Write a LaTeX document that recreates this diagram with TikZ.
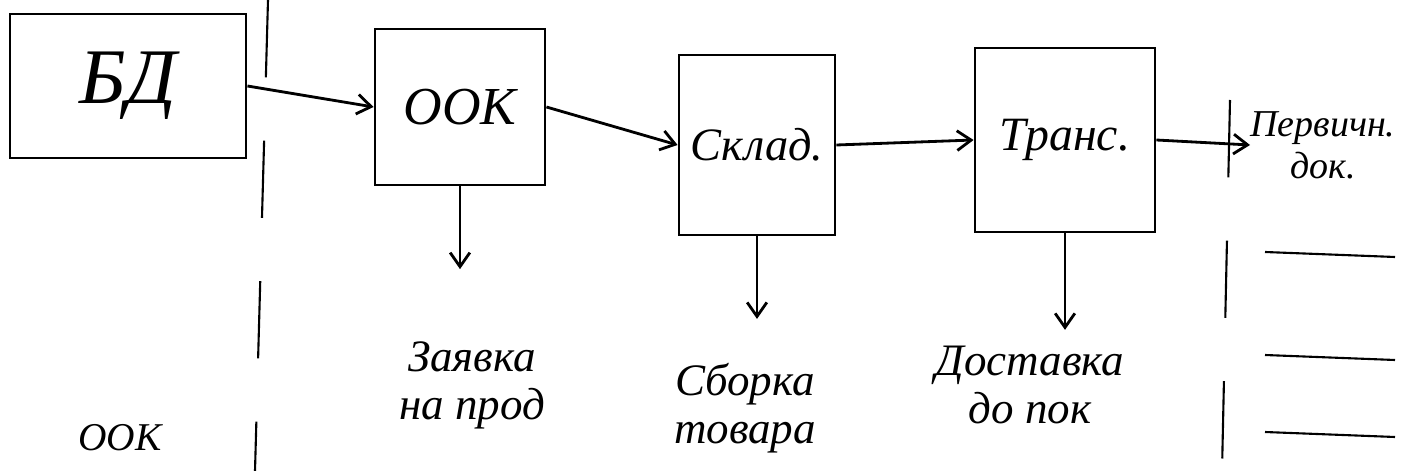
\documentclass[tikz,border=0pt]{standalone}
\usepackage{fontspec}
\setmainfont{Liberation Serif}
\usetikzlibrary{arrows.meta}

\begin{document}
\begin{tikzpicture}[x=0.025cm,y=-0.025cm,
    any/.style={draw,line width=2pt,inner sep=0pt,font=\fontsize{38}{42}\selectfont\itshape},
    note/.style={align=center,inner sep=0pt,font=\fontsize{32}{34}\selectfont\itshape},
    link/.style={-{Straight Barb[length=10pt,width=14pt]},line width=2pt},
    cut/.style={line width=1.5pt,dash pattern=on 55pt off 45pt},
    rule/.style={line width=1.5pt}
]
\useasboundingbox (0,0) rectangle (1401,471);

% upper row
\node[any,minimum width=5.9cm,minimum height=3.6cm,font=\fontsize{56}{60}\selectfont\itshape] (BD) at (128,86) {БД};
\node[any,minimum width=4.25cm,minimum height=3.9cm] (OOK) at (460,107) {ООК};
\node[any,minimum width=3.9cm,minimum height=4.5cm,font=\fontsize{33}{36}\selectfont\itshape] (sklad) at (757,145) {Склад.};
\node[any,minimum width=4.5cm,minimum height=4.6cm,font=\fontsize{34}{38}\selectfont\itshape] (trans) at (1065,140) {Транс.};
\node[note,anchor=west,font=\fontsize{27}{30}\selectfont\itshape] (docs) at (1250,145) {Первичн.\\док.};

% lower row
\node[note] (zayavka) at (472,385) {Заявка\\на прод};
\node[note] (sborka) at (745,408) {Сборка\\товара};
\node[note] (dostavka) at (1030,385) {Доставка\\до пок};
\node[note,font=\fontsize{28}{30}\selectfont\itshape] (bottom) at (120,438) {ООК};

\draw[link] (BD.east) -- (OOK.west);
\draw[link] (OOK.east) -- (sklad.west);
\draw[link] (sklad.east) -- (trans.west);
\draw[link] (trans.east) -- (docs.west);

\draw[link,shorten >=1.8cm] (OOK.south) -- (OOK.south |- zayavka.north);
\draw[link,shorten >=1.1cm] (sklad.south) -- (sklad.south |- sborka.north);
\draw[link,shorten >=0.4cm] (trans.south) -- (trans.south |- dostavka.north);

% dividers
\draw[cut] (268,0) -- (255,471);
\draw[cut] (1230,100) -- (1222,471);
\foreach \y in {252,355,432}
  \draw[rule] (1265,\y) -- (1395,\y+5);
\end{tikzpicture}
\end{document}
